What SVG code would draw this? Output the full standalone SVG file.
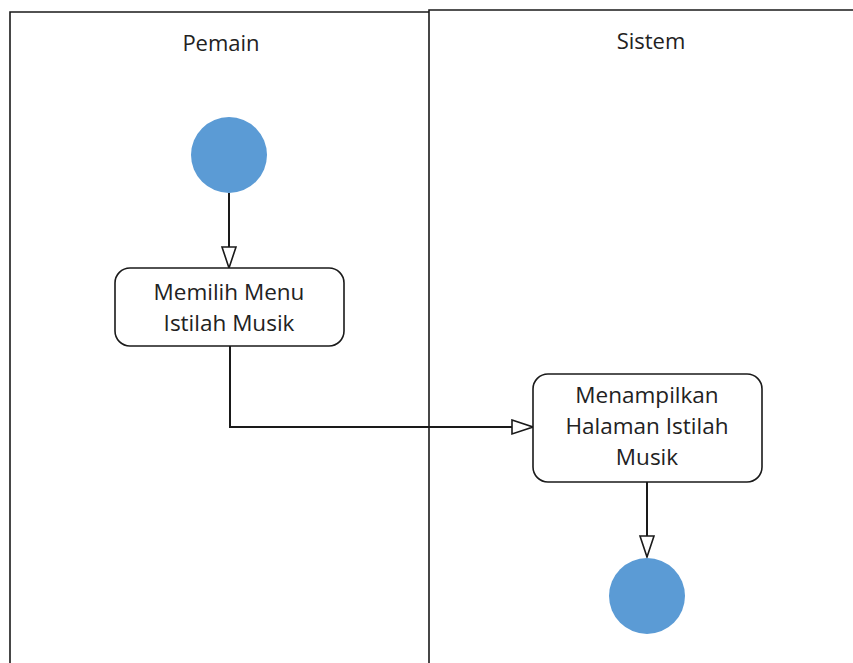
<svg xmlns="http://www.w3.org/2000/svg" width="853" height="663" viewBox="0 0 853 663">
  <style>
    .lane { fill: none; stroke: #1a1a1a; stroke-width: 1.6; }
    .title { font-family: "Open Sans", "Liberation Sans", sans-serif; font-size: 22px; fill: #222; text-anchor: middle; }
    .action rect { fill: #ffffff; stroke: #1a1a1a; stroke-width: 1.6; }
    .action text { font-family: "Open Sans", "Liberation Sans", sans-serif; font-size: 22.5px; fill: #222; text-anchor: middle; }
    .dot { fill: #5B9BD5; }
    .flow { fill: none; stroke: #1a1a1a; stroke-width: 2; marker-end: url(#open); }
  </style>
  <defs>
    <marker id="open" markerWidth="24" markerHeight="18" refX="22" refY="8" orient="auto" markerUnits="userSpaceOnUse">
      <path d="M1,1 L22,8 L1,15 Z" fill="#ffffff" stroke="#1a1a1a" stroke-width="1.6"/>
    </marker>
  </defs>

  <rect width="853" height="663" fill="#ffffff"/>

  <!-- swimlanes -->
  <g id="lane-pemain">
    <path class="lane" d="M10,663 V12 H429"/>
    <text class="title" x="221" y="51">Pemain</text>
  </g>
  <g id="lane-sistem">
    <path class="lane" d="M429,663 V10 H853"/>
    <text class="title" x="651" y="49">Sistem</text>
  </g>

  <!-- connectors -->
  <g id="connectors">
    <path class="flow" d="M229,193 V268"/>
    <path class="flow" d="M230,346 V427 H533"/>
    <path class="flow" d="M647,482 V557"/>
  </g>

  <!-- nodes -->
  <g id="start">
    <circle class="dot" cx="229" cy="155" r="38"/>
  </g>
  <g id="memilih-menu" class="action">
    <rect x="115" y="268" width="229" height="78" rx="15"/>
    <text x="229" y="300">Memilih Menu</text>
    <text x="229" y="331">Istilah Musik</text>
  </g>
  <g id="menampilkan-halaman" class="action">
    <rect x="533" y="374" width="229" height="108" rx="15"/>
    <text x="647" y="403">Menampilkan</text>
    <text x="647" y="434">Halaman Istilah</text>
    <text x="647" y="465">Musik</text>
  </g>
  <g id="end">
    <circle class="dot" cx="647" cy="596" r="38"/>
  </g>
</svg>
